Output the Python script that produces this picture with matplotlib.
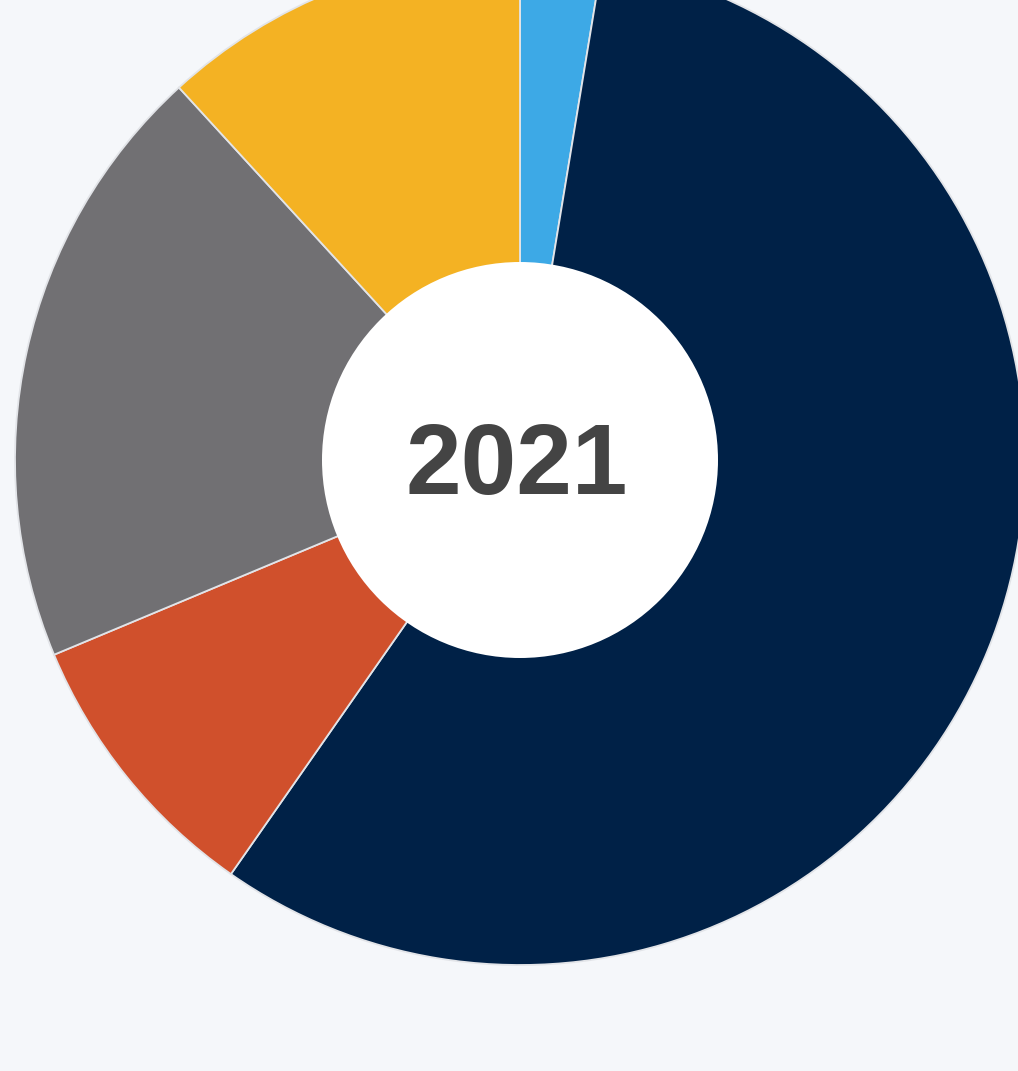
import matplotlib.pyplot as plt
from matplotlib.patches import Circle

## data (share of the ring, clockwise from 12 o'clock)
labels = ["Light blue", "Navy", "Orange", "Gray", "Yellow"]
shares = [2.6, 57.1, 9.0, 19.5, 11.8]
colors = ["#3DA9E6", "#002147", "#D0502C", "#717073", "#F4B223"]
center_label = "2021"

W, H = 1018, 1071
fig = plt.figure(figsize=(W / 100, H / 100), dpi=100, facecolor="#F5F7FA")
ax = fig.add_axes([0, 0, 1, 1])

cx, cy = 520, H - 460
ax.pie(shares, colors=colors, startangle=90, counterclock=False,
       center=(cx, cy), radius=505, frame=True,
       wedgeprops=dict(edgecolor="#E2E4E8", linewidth=1.3))
ax.set_xlim(0, W)
ax.set_ylim(0, H)
ax.set_aspect("equal")
ax.axis("off")

# donut hole
ax.add_patch(Circle((cx, cy), 198, facecolor="white", edgecolor="none", zorder=5))
ax.text(517, H - 494, center_label, ha="center", va="baseline", fontsize=72,
        fontweight="bold", color="#444444", family="Liberation Sans", zorder=6)

fig.savefig("out.png", dpi=100, facecolor=fig.get_facecolor())
